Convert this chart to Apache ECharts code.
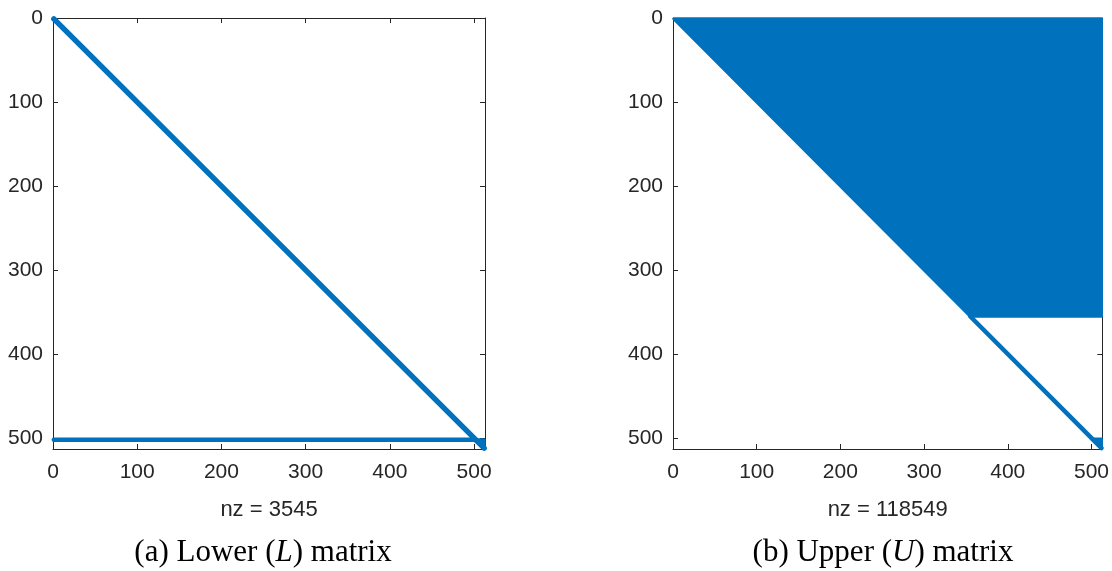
<!DOCTYPE html>
<html>
<head>
<meta charset="utf-8">
<title>LU factor sparsity patterns</title>
<script src="https://cdn.jsdelivr.net/npm/echarts@6/dist/echarts.min.js"></script>
<style>
  html, body { margin: 0; padding: 0; background: #ffffff; }
  #chart { width: 1112px; height: 571px; }
</style>
</head>
<body>
<div id="chart"></div>
<script>
// Sparsity structure of the L and U factors of a 512 x 512 matrix.
const matrixSize = 512;
const axisLimit = 513;
const tickValues = [0, 100, 200, 300, 400, 500];
const lowerNnz = 3545;
const upperNnz = 118549;

// Line-shaped nonzero runs: [colStart, rowStart, colEnd, rowEnd]
const lowerLines = [
  [1, 1, 512, 512],     // main diagonal
  [1, 502, 502, 502]    // dense row 502
];
// Filled nonzero blocks, as polygons of [col, row]
const lowerFills = [
  [[500, 502], [512, 502], [512, 512]]
];

const upperLines = [
  [355, 355, 512, 512]  // diagonal below the dense block
];
const upperFills = [
  [[1, 1], [512, 1], [512, 355], [355, 355]],  // dense upper rows
  [[500, 501], [512, 501], [512, 512]]         // trailing corner block
];

const captions = [
  { text: '(a) Lower ({it|L}) matrix', center: 263 },
  { text: '(b) Upper ({it|U}) matrix', center: 883 }
];

const markColor = '#0072BD';
const axisColor = '#262626';
const plotBoxes = [
  { left: 53, top: 18, width: 432, height: 431 },
  { left: 673, top: 18, width: 431, height: 431 }
];

function xAxes(gridIndex, nnz) {
  const common = {
    gridIndex, type: 'value', min: 0, max: axisLimit,
    axisLine: { show: true, onZero: false, lineStyle: { color: axisColor, width: 1 } },
    axisTick: { show: true, inside: true, length: 5, customValues: tickValues,
                lineStyle: { color: axisColor, width: 1 } },
    splitLine: { show: false }
  };
  return [
    Object.assign({}, common, {
      position: 'bottom',
      axisLabel: { show: true, customValues: tickValues, margin: 13,
                   fontFamily: 'Liberation Sans, Arial, sans-serif', fontSize: 21, color: axisColor },
      name: 'nz = ' + nnz, nameLocation: 'middle', nameGap: 50,
      nameTextStyle: { fontFamily: 'Liberation Sans, Arial, sans-serif', fontSize: 22, color: axisColor }
    }),
    Object.assign({}, common, { position: 'top', axisLabel: { show: false } })
  ];
}

function yAxes(gridIndex) {
  const common = {
    gridIndex, type: 'value', min: 0, max: axisLimit, inverse: true,
    axisLine: { show: true, onZero: false, lineStyle: { color: axisColor, width: 1 } },
    axisTick: { show: true, inside: true, length: 5, customValues: tickValues,
                lineStyle: { color: axisColor, width: 1 } },
    splitLine: { show: false }
  };
  return [
    Object.assign({}, common, {
      position: 'left',
      axisLabel: { show: true, customValues: tickValues, margin: 10,
                   fontFamily: 'Liberation Sans, Arial, sans-serif', fontSize: 21, color: axisColor }
    }),
    Object.assign({}, common, { position: 'right', axisLabel: { show: false } })
  ];
}

function lineSeries(lines, axisIdx, width) {
  return {
    type: 'custom',
    xAxisIndex: axisIdx, yAxisIndex: axisIdx,
    clip: false,
    data: lines,
    encode: { x: [0, 2], y: [1, 3] },
    renderItem: function (params, api) {
      const p0 = api.coord([api.value(0), api.value(1)]);
      const p1 = api.coord([api.value(2), api.value(3)]);
      return {
        type: 'line',
        shape: { x1: p0[0], y1: p0[1], x2: p1[0], y2: p1[1] },
        style: { stroke: markColor, lineWidth: width, lineCap: 'round' }
      };
    }
  };
}

function fillSeries(fills, axisIdx) {
  return {
    type: 'custom',
    xAxisIndex: axisIdx, yAxisIndex: axisIdx,
    clip: false,
    data: fills.map(f => f[0]),
    renderItem: function (params, api) {
      const pts = fills[params.dataIndex].map(p => api.coord(p));
      return {
        type: 'polygon',
        shape: { points: pts },
        style: { fill: markColor, stroke: markColor, lineWidth: 3, lineJoin: 'round' }
      };
    }
  };
}

const chart = echarts.init(document.getElementById('chart'), null, { renderer: 'canvas' });

chart.setOption({
  animation: false,
  backgroundColor: '#ffffff',
  grid: plotBoxes.map(b => Object.assign({ containLabel: false }, b)),
  xAxis: [].concat(xAxes(0, lowerNnz), xAxes(1, upperNnz)),
  yAxis: [].concat(yAxes(0), yAxes(1)),
  series: [
    fillSeries(lowerFills, 0),
    lineSeries([lowerLines[0]], 0, 5.5),
    lineSeries([lowerLines[1]], 0, 4.5),
    fillSeries(upperFills, 2),
    lineSeries(upperLines, 2, 4.5)
  ],
  graphic: captions.map(c => ({
    type: 'text',
    x: c.center,
    y: 553,
    style: {
      text: c.text,
      align: 'center',
      verticalAlign: 'middle',
      fontFamily: 'Liberation Serif, Times New Roman, serif',
      fontSize: 31,
      fill: '#000000',
      rich: {
        it: { fontStyle: 'italic', fontFamily: 'Liberation Serif, Times New Roman, serif', fontSize: 31, fill: '#000000' }
      }
    }
  }))
});
</script>
</body>
</html>
